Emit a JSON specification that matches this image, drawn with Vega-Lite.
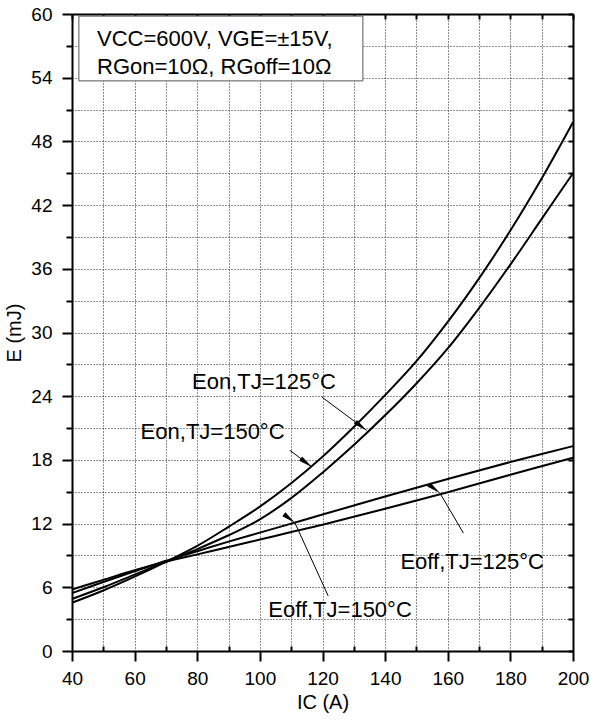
{
  "$schema": "https://vega.github.io/schema/vega-lite/v6.json",
  "width": 501,
  "height": 637,
  "autosize": {"type": "none"},
  "padding": {"left": 72, "top": 14, "right": 18, "bottom": 71},
  "background": "white",
  "config": {
    "font": "Liberation Sans",
    "view": {"stroke": null},
    "axis": {
      "labelFont": "Liberation Sans",
      "titleFont": "Liberation Sans",
      "labelColor": "#000",
      "titleColor": "#000",
      "titleFontWeight": "normal",
      "domainColor": "#000",
      "tickColor": "#000",
      "domainWidth": 2,
      "tickWidth": 2
    }
  },
  "datasets": {
    "curves": [
      {"series": "Eon150", "Ic": 40, "E": 4.55},
      {"series": "Eon150", "Ic": 50, "E": 5.7},
      {"series": "Eon150", "Ic": 60, "E": 7.0},
      {"series": "Eon150", "Ic": 70, "E": 8.4},
      {"series": "Eon150", "Ic": 80, "E": 9.9},
      {"series": "Eon150", "Ic": 90, "E": 11.7},
      {"series": "Eon150", "Ic": 100, "E": 13.6},
      {"series": "Eon150", "Ic": 110, "E": 15.8},
      {"series": "Eon150", "Ic": 120, "E": 18.3},
      {"series": "Eon150", "Ic": 130, "E": 21.1},
      {"series": "Eon150", "Ic": 140, "E": 24.1},
      {"series": "Eon150", "Ic": 150, "E": 27.3},
      {"series": "Eon150", "Ic": 160, "E": 31.0},
      {"series": "Eon150", "Ic": 170, "E": 35.1},
      {"series": "Eon150", "Ic": 180, "E": 39.6},
      {"series": "Eon150", "Ic": 190, "E": 44.5},
      {"series": "Eon150", "Ic": 200, "E": 49.8},
      {"series": "Eon125", "Ic": 40, "E": 4.9},
      {"series": "Eon125", "Ic": 50, "E": 6.0},
      {"series": "Eon125", "Ic": 60, "E": 7.2},
      {"series": "Eon125", "Ic": 70, "E": 8.4},
      {"series": "Eon125", "Ic": 80, "E": 9.6},
      {"series": "Eon125", "Ic": 90, "E": 10.9},
      {"series": "Eon125", "Ic": 100, "E": 12.4},
      {"series": "Eon125", "Ic": 110, "E": 14.4},
      {"series": "Eon125", "Ic": 120, "E": 16.8},
      {"series": "Eon125", "Ic": 130, "E": 19.4},
      {"series": "Eon125", "Ic": 140, "E": 22.2},
      {"series": "Eon125", "Ic": 150, "E": 25.2},
      {"series": "Eon125", "Ic": 160, "E": 28.5},
      {"series": "Eon125", "Ic": 170, "E": 32.3},
      {"series": "Eon125", "Ic": 180, "E": 36.4},
      {"series": "Eon125", "Ic": 190, "E": 40.7},
      {"series": "Eon125", "Ic": 200, "E": 45.0},
      {"series": "Eoff150", "Ic": 40, "E": 5.45},
      {"series": "Eoff150", "Ic": 50, "E": 6.5},
      {"series": "Eoff150", "Ic": 60, "E": 7.5},
      {"series": "Eoff150", "Ic": 70, "E": 8.5},
      {"series": "Eoff150", "Ic": 80, "E": 9.4},
      {"series": "Eoff150", "Ic": 90, "E": 10.3},
      {"series": "Eoff150", "Ic": 100, "E": 11.15},
      {"series": "Eoff150", "Ic": 110, "E": 12.0},
      {"series": "Eoff150", "Ic": 120, "E": 12.85},
      {"series": "Eoff150", "Ic": 140, "E": 14.55},
      {"series": "Eoff150", "Ic": 160, "E": 16.2},
      {"series": "Eoff150", "Ic": 180, "E": 17.8},
      {"series": "Eoff150", "Ic": 200, "E": 19.3},
      {"series": "Eoff125", "Ic": 40, "E": 5.8},
      {"series": "Eoff125", "Ic": 50, "E": 6.7},
      {"series": "Eoff125", "Ic": 60, "E": 7.6},
      {"series": "Eoff125", "Ic": 70, "E": 8.4},
      {"series": "Eoff125", "Ic": 80, "E": 9.1},
      {"series": "Eoff125", "Ic": 90, "E": 9.8},
      {"series": "Eoff125", "Ic": 100, "E": 10.5},
      {"series": "Eoff125", "Ic": 110, "E": 11.2},
      {"series": "Eoff125", "Ic": 120, "E": 11.9},
      {"series": "Eoff125", "Ic": 140, "E": 13.4},
      {"series": "Eoff125", "Ic": 160, "E": 14.95},
      {"series": "Eoff125", "Ic": 180, "E": 16.6},
      {"series": "Eoff125", "Ic": 200, "E": 18.2}
    ],
    "labels": [
      {"label": "Eon,TJ=125°C", "Ic": 101.3, "E": 25.3},
      {"label": "Eon,TJ=150°C", "Ic": 84.9, "E": 20.6},
      {"label": "Eoff,TJ=125°C", "Ic": 167.8, "E": 8.4},
      {"label": "Eoff,TJ=150°C", "Ic": 125.6, "E": 3.9}
    ],
    "arrows": [
      {"label": "Eon125", "Ic": 119.75, "E": 23.93, "Ic2": 134.1, "E2": 20.78},
      {"label": "Eon150", "Ic": 109.6, "E": 18.9, "Ic2": 116.6, "E2": 17.33},
      {"label": "Eoff125", "Ic": 165.0, "E": 11.1, "Ic2": 157.5, "E2": 14.88},
      {"label": "Eoff150", "Ic": 121.8, "E": 5.2, "Ic2": 111.2, "E2": 12.07}
    ],
    "box": [
      {"Ic": 42.2, "Ic2": 132.9, "E": 53.7, "E2": 59.8}
    ],
    "boxtext": [
      {"line": "VCC=600V, VGE=±15V,", "Ic": 48.0, "E": 57.6},
      {"line": "RGon=10Ω, RGoff=10Ω", "Ic": 48.0, "E": 55.0}
    ]
  },
  "resolve": {"axis": {"x": "independent", "y": "independent"}},
  "layer": [
    {
      "data": {"name": "curves"},
      "mark": {"type": "line", "color": "#000", "strokeWidth": 2, "interpolate": "catmull-rom"},
      "encoding": {
        "x": {
          "field": "Ic", "type": "quantitative",
          "scale": {"domain": [40, 200], "nice": false, "zero": false},
          "axis": {
            "orient": "bottom",
            "values": [40, 50, 60, 70, 80, 90, 100, 110, 120, 130, 140, 150, 160, 170, 180, 190, 200],
            "grid": true, "gridDash": [1, 2], "gridColor": "#222", "gridWidth": 1,
            "tickSize": {"condition": {"test": "datum.value % 20 === 0", "value": 10}, "value": -5},
            "labelExpr": "datum.value % 20 === 0 ? datum.label : ''",
            "labelFontSize": 19, "labelPadding": 8, "labelFlush": false, "labelOverlap": false,
            "title": "IC (A)", "titleFontSize": 20, "titlePadding": 4
          }
        },
        "y": {
          "field": "E", "type": "quantitative",
          "scale": {"domain": [0, 60], "nice": false, "zero": false},
          "axis": {
            "orient": "left",
            "values": [0, 3, 6, 9, 12, 15, 18, 21, 24, 27, 30, 33, 36, 39, 42, 45, 48, 51, 54, 57, 60],
            "grid": true, "gridDash": [1, 2], "gridColor": "#222", "gridWidth": 1,
            "tickSize": {"condition": {"test": "datum.value % 6 === 0", "value": 10}, "value": 6},
            "labelExpr": "datum.value % 6 === 0 ? datum.label : ''",
            "labelFontSize": 19, "labelPadding": 10, "labelFlush": false, "labelOverlap": false,
            "title": "E (mJ)", "titleFontSize": 20, "titlePadding": 6
          }
        },
        "detail": {"field": "series", "type": "nominal"}
      }
    },
    {
      "data": {"name": "box"},
      "mark": {"type": "rect", "fill": "white", "stroke": "#555", "strokeWidth": 1},
      "encoding": {
        "x": {
          "field": "Ic", "type": "quantitative",
          "axis": {
            "orient": "top",
            "values": [40, 50, 60, 70, 80, 90, 100, 110, 120, 130, 140, 150, 160, 170, 180, 190, 200],
            "tickSize": -5, "labels": false, "title": null, "grid": false
          }
        },
        "x2": {"field": "Ic2"},
        "y": {
          "field": "E", "type": "quantitative",
          "axis": {
            "orient": "right",
            "values": [0, 3, 6, 9, 12, 15, 18, 21, 24, 27, 30, 33, 36, 39, 42, 45, 48, 51, 54, 57, 60],
            "tickSize": -5, "labels": false, "title": null, "grid": false
          }
        },
        "y2": {"field": "E2"}
      }
    },
    {
      "data": {"name": "boxtext"},
      "mark": {"type": "text", "align": "left", "baseline": "middle", "fontSize": 22, "color": "#000", "font": "Liberation Sans"},
      "encoding": {
        "x": {"field": "Ic", "type": "quantitative", "axis": null},
        "y": {"field": "E", "type": "quantitative", "axis": null},
        "text": {"field": "line"}
      }
    },
    {
      "data": {"name": "labels"},
      "mark": {"type": "text", "align": "center", "baseline": "middle", "fontSize": 22, "color": "#000", "font": "Liberation Sans"},
      "encoding": {
        "x": {"field": "Ic", "type": "quantitative", "axis": null},
        "y": {"field": "E", "type": "quantitative", "axis": null},
        "text": {"field": "label"}
      }
    },
    {
      "data": {"name": "arrows"},
      "mark": {"type": "rule", "color": "#000", "strokeWidth": 1},
      "encoding": {
        "x": {"field": "Ic", "type": "quantitative", "axis": null},
        "y": {"field": "E", "type": "quantitative", "axis": null},
        "x2": {"field": "Ic2"},
        "y2": {"field": "E2"}
      }
    },
    {
      "data": {"name": "arrows"},
      "mark": {"type": "point", "filled": true, "color": "#000", "opacity": 1, "size": 196, "shape": "M0,0L0.36,2L-0.36,2Z"},
      "encoding": {
        "x": {"field": "Ic2", "type": "quantitative", "axis": null},
        "y": {"field": "E2", "type": "quantitative", "axis": null},
        "angle": {
          "field": "label", "type": "nominal", "legend": null,
          "scale": {"domain": ["Eon125", "Eon150", "Eoff125", "Eoff150"], "range": [126.6, 127.4, 329.8, 335.7]}
        }
      }
    }
  ]
}
